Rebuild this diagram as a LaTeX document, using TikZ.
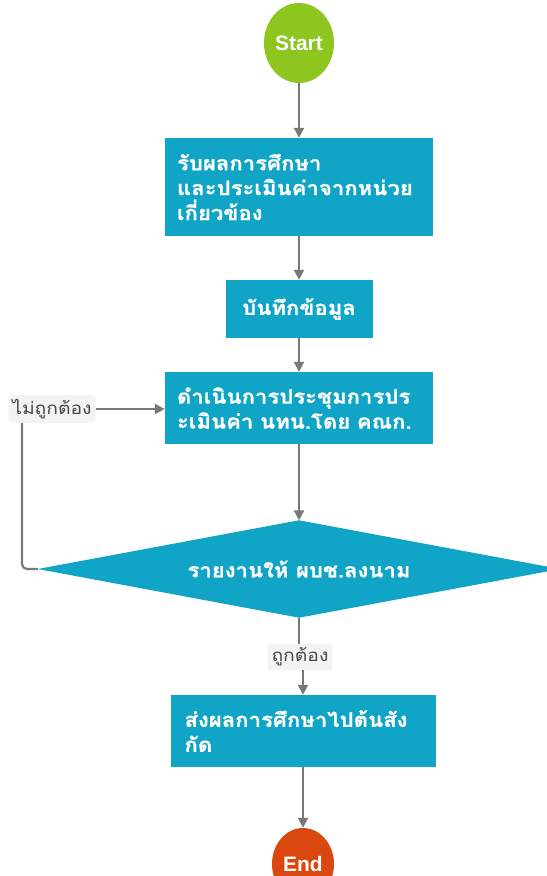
\documentclass[tikz,border=0pt]{standalone}
\usepackage{fontspec}
\setmainfont{Liberation Sans}
\newfontfamily\thai{Loma}[Script=Thai, FakeStretch=1.14]
\newfontfamily\thaibx{Loma}[Script=Thai, FakeStretch=1.11, FakeBold=0.7]
\usetikzlibrary{arrows.meta,shapes.geometric}
\definecolor{boxteal}{RGB}{16,164,198}
\definecolor{startgreen}{RGB}{141,198,31}
\definecolor{endred}{RGB}{218,72,16}
\definecolor{arrgray}{RGB}{120,120,120}
\definecolor{lblbg}{RGB}{243,243,243}
\definecolor{lbltext}{RGB}{70,70,70}
\tikzset{
  proc/.style={rectangle, fill=boxteal, text=white, inner sep=0pt,
    font=\thaibx\bfseries\fontsize{20}{25}\selectfont},
  decisbox/.style={rectangle, text=white, inner sep=0pt,
    font=\thaibx\bfseries\fontsize{20}{25}\selectfont},
  term/.style={ellipse, text=white, inner sep=0pt,
    font=\bfseries\fontsize{21}{24}\selectfont},
  lbl/.style={rectangle, rounded corners=4bp, fill=lblbg, text=lbltext,
    inner xsep=4bp, inner ysep=4bp, font=\thai\fontsize{17}{20}\selectfont},
  conn/.style={draw=arrgray, line width=2.2bp},
  arr/.style={conn, -{Triangle[length=10bp,width=10bp]}}
}
\begin{document}
\begin{tikzpicture}[x=1bp,y=-1bp]
\useasboundingbox (0,0) rectangle (547,876);
\clip (0,0) rectangle (547,876);
\node[term, fill=startgreen, minimum width=70bp, minimum height=80bp] (start) at (299,43) {Start};
\node[proc, minimum width=268bp, minimum height=98bp, text width=244bp, align=left] (b1) at (299,187)
  {รับผลการศึกษา\\และประเมินค่าจากหน่วย\\เกี่ยวข้อง};
\node[proc, minimum width=147bp, minimum height=58bp, align=center] (b2) at (299,309) {บันทึกข้อมูล};
\node[proc, minimum width=268bp, minimum height=72bp, text width=244bp, align=left] (b3) at (299,408)
  {ดำเนินการประชุมการปร\\ะเมินค่า นทน.โดย คณก.};
\node[decisbox, minimum width=522bp, minimum height=97bp] (d) at (299,569) {};
\fill[boxteal] (d.north) -- (d.east) -- (d.south) -- (d.west) -- cycle;
\node[decisbox] (dtext) at (d.center) {รายงานให้ ผบช.ลงนาม};
\node[lbl] (no) at (52,409) {ไม่ถูกต้อง};
\node[lbl] (yes) at (300,657) {ถูกต้อง};
\node[proc, minimum width=265bp, minimum height=72bp, text width=237bp, align=left] (b4) at (303,731)
  {ส่งผลการศึกษาไปต้นสัง\\กัด};
\node[term, fill=endred, minimum width=62bp, minimum height=72bp] (end) at (303,864) {End};
\draw[arr] (start) -- (b1);
\draw[arr] (b1) -- (b2);
\draw[arr] (b2) -- (b3);
\draw[arr] (b3) -- (d.north);
\draw[conn] (d.south) -- (d.south |- yes.north);
\draw[arr] (yes.south -| b4.north) -- (b4.north);
\draw[arr] (b4) -- (end);
\draw[conn, rounded corners=5bp] (d.west) -| ([xshift=-30bp]no.south);
\draw[arr] (no.east) -- (no.east -| b3.west);
\end{tikzpicture}
\end{document}
